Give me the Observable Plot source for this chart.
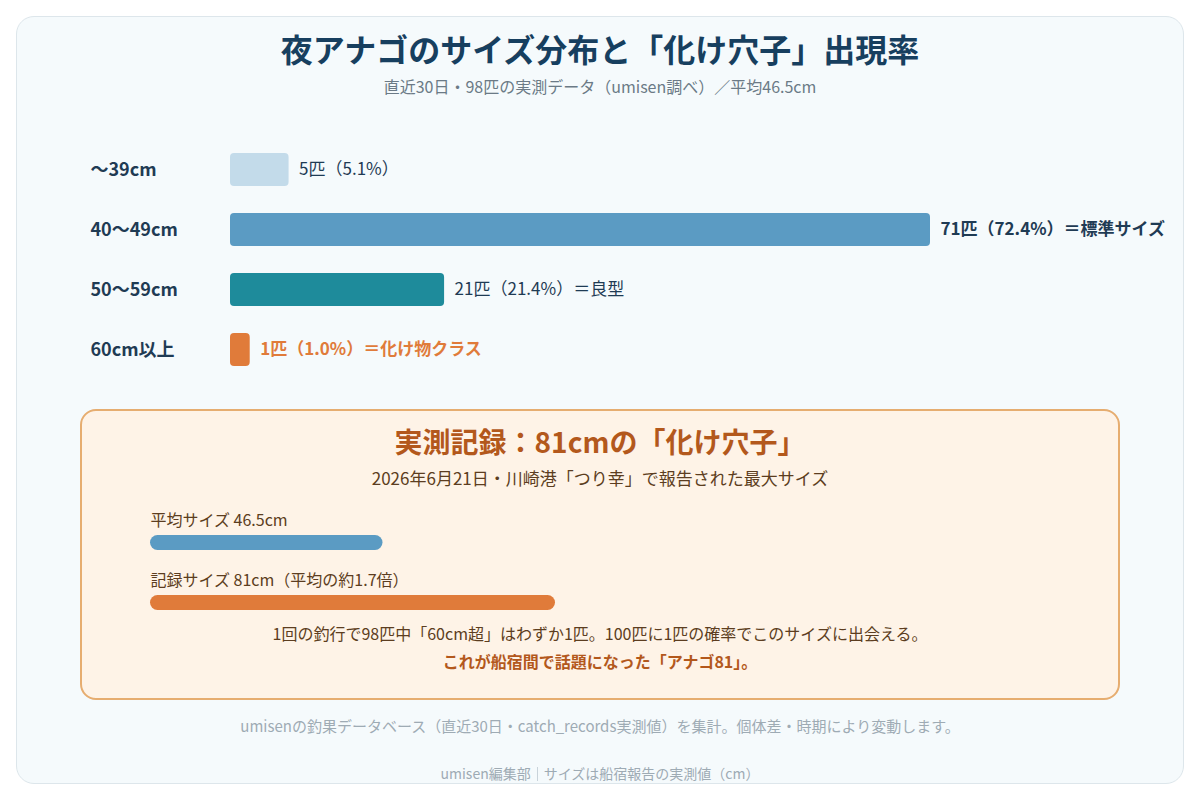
<!DOCTYPE html>
<html lang="ja">
<head>
<meta charset="utf-8">
<script src="https://cdn.jsdelivr.net/npm/d3@7"></script>
<script src="https://cdn.jsdelivr.net/npm/@observablehq/plot@0.6"></script>
<style>
  html, body { margin: 0; padding: 0; background: #ffffff; }
  body { font-family: "Noto Sans CJK JP", "Noto Sans", sans-serif; }
  #root { position: relative; width: 1200px; height: 800px; overflow: hidden; }
  .card { position: absolute; left: 16px; top: 16px; width: 1166px; height: 766px;
          border: 1px solid #dde6eb; border-radius: 18px; background: #f5fafc; }
  .line { position: absolute; left: 0; width: 1200px; text-align: center; white-space: nowrap; }
  .title { top: 28px; height: 40px; line-height: 40px; font-size: 32px; font-weight: 700; color: #173f5f; }
  .subtitle { top: 76px; line-height: 20px; font-size: 16px; color: #6b7a86; }
  .callout { position: absolute; left: 80px; top: 409px; width: 1036px; height: 287px;
             border: 2px solid #e6ad70; border-radius: 16px; background: #fef3e7; }
  .c-title { top: 424px; line-height: 34px; font-size: 28px; font-weight: 700; color: #b3581c; }
  .c-sub { top: 468px; line-height: 20px; font-size: 17px; color: #5c3d20; }
  .c-body { top: 623px; line-height: 20px; font-size: 16px; color: #5c3d20; }
  .c-strong { top: 651px; line-height: 20px; font-size: 16px; font-weight: 700; color: #b3581c; }
  .foot { top: 716px; line-height: 20px; font-size: 15px; color: #9eabb4; }
  .byline { top: 764px; line-height: 18px; font-size: 14px; color: #9eabb4; }
  .byline .sep { display: inline-block; border-left: 1px solid #c9d3da; height: 14px;
                 vertical-align: -2px; margin: 0 6px; }
  .plot { position: absolute; left: 0; }
</style>
</head>
<body>
<div id="root">
  <div class="card"></div>
  <div class="line title">夜アナゴのサイズ分布と「化け穴子」出現率</div>
  <div class="line subtitle" id="subtitle"></div>
  <div class="plot" id="dist" style="top:139px"></div>
  <div class="callout"></div>
  <div class="line c-title" id="ctitle"></div>
  <div class="line c-sub">2026年6月21日・川崎港「つり幸」で報告された最大サイズ</div>
  <div class="plot" id="compare" style="top:511.5px"></div>
  <div class="line c-body">1回の釣行で98匹中「60cm超」はわずか1匹。100匹に1匹の確率でこのサイズに出会える。</div>
  <div class="line c-strong">これが船宿間で話題になった「アナゴ81」。</div>
  <div class="line foot">umisenの釣果データベース（直近30日・catch_records実測値）を集計。個体差・時期により変動します。</div>
  <div class="line byline">umisen編集部<span class="sep"></span>サイズは船宿報告の実測値（cm）</div>
</div>
<script>
// Size classes of night-fished conger eels over the last 30 days
const sizeClasses = ["〜39cm", "40〜49cm", "50〜59cm", "60cm以上"];
const counts = [5, 71, 21, 1];
const shares = [5.1, 72.4, 21.4, 1.0];
const notes = ["", "＝標準サイズ", "＝良型", "＝化け物クラス"];
const barColors = ["#c3dbea", "#5b9bc3", "#1e8b9b", "#e07b3a"];

const totalFish = 98;
const avgSize = 46.5;
const recordSize = 81;

const compareKeys = ["平均サイズ", "記録サイズ"];
const compareValues = [avgSize, recordSize];
const compareColors = ["#5b9bc3", "#e07b3a"];

const font = '"Noto Sans CJK JP", "Noto Sans", sans-serif';

document.getElementById("subtitle").textContent =
  `直近30日・${totalFish}匹の実測データ（umisen調べ）／平均${avgSize}cm`;
document.getElementById("ctitle").textContent =
  `実測記録：${recordSize}cmの「化け穴子」`;

const rows = sizeClasses.map((cls, i) => ({
  cls,
  count: counts[i],
  label: `${counts[i]}匹（${shares[i].toFixed(1)}%）${notes[i]}`
}));
const maxCount = d3.max(counts);
const topClass = sizeClasses[counts.indexOf(maxCount)];
const rareClass = sizeClasses[sizeClasses.length - 1];

// every bar gets a short 10px stub to the left of zero so a single fish stays visible
const stub = 10;

const dist = Plot.plot({
  width: 1200,
  height: 240,
  margin: 0,
  style: { background: "transparent", fontFamily: font, overflow: "visible" },
  x: { domain: [0, maxCount], range: [230 + stub, 930], axis: null },
  y: { domain: sizeClasses, paddingInner: 0.45, paddingOuter: 0.225, axis: null },
  color: { domain: sizeClasses, range: barColors },
  marks: [
    Plot.barX(rows, { x: "count", y: "cls", fill: "cls", rx: 4, insetLeft: -stub }),
    // class names on the left
    Plot.text(rows, {
      y: "cls", text: "cls", frameAnchor: "left", dx: 90, textAnchor: "start",
      fontSize: 18, fontWeight: 700, fill: "#1f3b54"
    }),
    // plain value labels
    Plot.text(rows.filter(d => d.cls !== topClass && d.cls !== rareClass), {
      x: "count", y: "cls", text: "label", dx: 10, textAnchor: "start",
      fontSize: 17, fill: "#1f3b54"
    }),
    // the dominant class
    Plot.text(rows.filter(d => d.cls === topClass), {
      x: "count", y: "cls", text: "label", dx: 10, textAnchor: "start",
      fontSize: 17, fontWeight: 700, fill: "#1f3b54"
    }),
    // the rare giant class
    Plot.text(rows.filter(d => d.cls === rareClass), {
      x: "count", y: "cls", text: "label", dx: 10, textAnchor: "start",
      fontSize: 17, fontWeight: 700, fill: "#e07b3a"
    })
  ]
});
document.getElementById("dist").appendChild(dist);

// Average vs. record length, on a shared cm scale
const cmp = compareKeys.map((key, i) => ({
  key,
  value: compareValues[i],
  label: i === 0
    ? `${key} ${compareValues[i]}cm`
    : `${key} ${compareValues[i]}cm（平均の約${(compareValues[i] / avgSize).toFixed(1)}倍）`
}));

const compare = Plot.plot({
  width: 1200,
  height: 120,
  marginLeft: 150, marginRight: 0, marginTop: 0, marginBottom: 0,
  style: { background: "transparent", fontFamily: font, overflow: "visible" },
  x: { domain: [0, recordSize], range: [150, 555], axis: null },
  y: { domain: compareKeys, paddingInner: 0.75, paddingOuter: 0.375, axis: null },
  color: { domain: compareKeys, range: compareColors },
  marks: [
    Plot.barX(cmp, { x: "value", y: "key", fill: "key", rx: 7.5 }),
    Plot.text(cmp, {
      y: "key", text: "label", frameAnchor: "left", textAnchor: "start", dy: -22.5,
      fontSize: 16, fill: "#5c3d20"
    })
  ]
});
document.getElementById("compare").appendChild(compare);
</script>
</body>
</html>
